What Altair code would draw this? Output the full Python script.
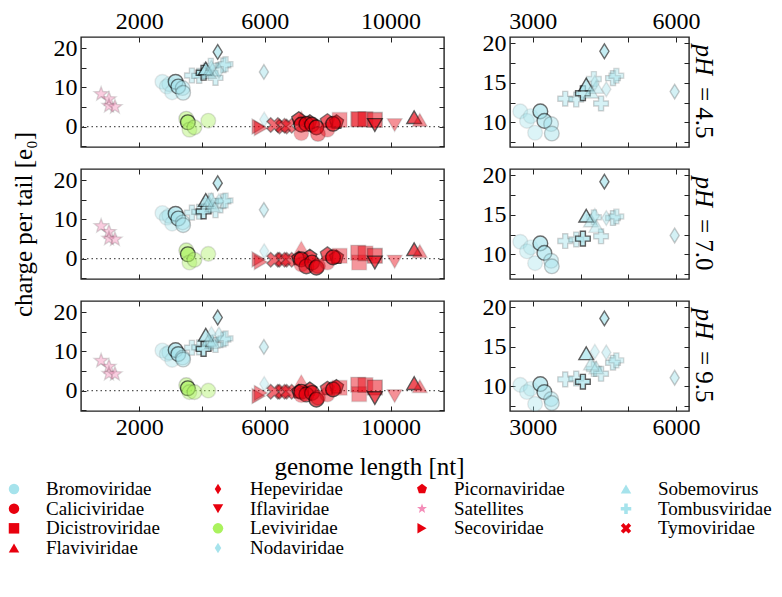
import math
import altair as alt
import pandas as pd

# ---------------- data ----------------
FAMILY = [
    "Satellites", "Satellites", "Satellites", "Satellites",
    "Bromoviridae", "Bromoviridae", "Bromoviridae", "Bromoviridae",
    "Bromoviridae", "Bromoviridae", "Bromoviridae", "Bromoviridae",
    "Tombusviridae", "Tombusviridae", "Tombusviridae", "Tombusviridae",
    "Tombusviridae", "Tombusviridae", "Tombusviridae",
    "Sobemovirus", "Sobemovirus", "Sobemovirus",
    "Nodaviridae", "Nodaviridae", "Nodaviridae", "Nodaviridae", "Nodaviridae",
    "Leviviridae", "Leviviridae", "Leviviridae", "Leviviridae", "Leviviridae",
    "Secoviridae", "Secoviridae",
    "Tymoviridae", "Tymoviridae", "Tymoviridae",
    "Flaviviridae", "Flaviviridae", "Flaviviridae",
    "Picornaviridae", "Picornaviridae", "Picornaviridae", "Picornaviridae",
    "Caliciviridae", "Caliciviridae", "Caliciviridae", "Caliciviridae",
    "Caliciviridae", "Caliciviridae", "Caliciviridae", "Caliciviridae",
    "Dicistroviridae", "Dicistroviridae", "Dicistroviridae", "Dicistroviridae",
    "Dicistroviridae",
    "Iflaviridae", "Iflaviridae",
]
LENGTH = [
    790, 1040, 1040, 1230,
    2740, 2880, 3050, 2960,
    3160, 3245, 3385, 3400,
    3680, 3910, 4050, 4280, 4430, 4680, 4750,
    4120, 4220, 4330,
    4500, 4540, 4300, 5970, 5980,
    3500, 3550, 3600, 3760, 4200,
    5800, 5870,
    6300, 6580, 6740,
    7160, 10750, 10930,
    7080, 7430, 7990, 8280,
    7160, 7320, 7500, 7640, 7690, 7160, 7990, 8170,
    8380, 8970, 9000, 9200, 9500,
    9500, 10130,
]
CHARGE_45 = [
    8.3, 7.0, 5.3, 5.0,
    11.4, 10.2, 8.7, 10.8,
    11.4, 10.2, 9.8, 8.6,
    13.0, 12.9, 13.7, 15.5, 12.4, 15.6, 15.9,
    14.8, 13.9, 14.5,
    19.0, 14.2, 15.0, 13.9, 1.8,
    2.0, 1.1, -0.8, -0.2, 1.5,
    0.0, -0.4,
    0.4, 0.0, 0.2,
    2.3, 2.4, 1.7,
    1.9, 1.1, 1.4, 1.1,
    0.5, 0.7, 0.5, -0.2, -1.9, -1.7, -0.8, 0.7,
    1.7, 1.9, 1.8, 1.9, 1.7,
    0.4, 0.4,
]
CHARGE_70 = [
    8.3, 6.8, 5.1, 4.9,
    11.6, 10.4, 8.9, 10.9,
    11.4, 10.2, 9.2, 8.5,
    11.7, 11.9, 12.0, 14.7, 12.3, 14.6, 14.8,
    14.9, 14.3, 13.6,
    19.2, 14.6, 14.9, 12.4, 1.9,
    2.1, 1.1, -1.0, -0.3, 1.2,
    -0.2, -0.9,
    -0.3, -0.3, -0.3,
    2.8, 2.4, 1.9,
    0.0, 0.5, 1.1, 0.3,
    -0.2, -2.0, -1.0, -2.3, -1.9, -1.5, -1.0, 0.3,
    0.7, 1.5, -1.0, 1.3, 0.7,
    -1.0, -0.8,
]
CHARGE_95 = [
    7.6, 6.1, 4.3, 4.2,
    10.2, 9.3, 7.8, 9.7,
    10.3, 9.3, 8.4, 7.9,
    10.9, 11.0, 10.6, 12.2, 11.6, 13.0, 13.3,
    14.2, 12.9, 12.4,
    18.6, 14.3, 14.4, 11.1, 1.7,
    1.4, 0.6, -0.4, -0.4, 0.0,
    -1.4, -0.6,
    -0.3, -0.3, -0.3,
    2.4, 1.9, 1.1,
    -0.3, 0.3, 0.5, 0.9,
    -0.3, -1.0, -0.6, -2.3, -1.8, -1.2, -1.0, 0.3,
    0.7, 1.5, -0.9, 1.4, 0.8,
    -1.9, -1.4,
]
ALPHA = [
    0.45, 0.45, 0.45, 0.45,
    0.35, 0.35, 0.35, 0.3,
    0.9, 0.85, 0.5, 0.55,
    0.5, 0.5, 0.95, 0.45, 0.5, 0.5, 0.45,
    0.95, 0.45, 0.4,
    0.9, 0.4, 0.35, 0.55, 0.35,
    0.5, 0.95, 0.4, 0.45, 0.4,
    0.55, 0.5,
    0.75, 0.7, 0.7,
    0.35, 0.95, 0.45,
    0.95, 0.95, 0.85, 0.95,
    0.95, 0.9, 0.9, 0.95, 0.5, 0.35, 0.4, 0.95,
    0.4, 0.5, 0.4, 0.45, 0.6,
    0.95, 0.45,
]
PH_LABELS = ["4.5", "7.0", "9.5"]
CHARGES = [CHARGE_45, CHARGE_70, CHARGE_95]

# legend: alphabetical, filled column by column into 4 columns
LEGEND_FAMILIES = [
    "Bromoviridae", "Caliciviridae", "Dicistroviridae", "Flaviviridae",
    "Hepeviridae", "Iflaviridae", "Leviviridae", "Nodaviridae",
    "Picornaviridae", "Satellites", "Secoviridae",
    "Sobemovirus", "Tombusviridae", "Tymoviridae",
]
LEGEND_COLUMNS = 4

BLUE, RED, GREEN, PINK = "#a6e3ec", "#e8000e", "#aaf25e", "#f48db8"
FAMILY_COLOR = {
    "Bromoviridae": BLUE, "Caliciviridae": RED, "Dicistroviridae": RED,
    "Flaviviridae": RED, "Hepeviridae": RED, "Iflaviridae": RED,
    "Leviviridae": GREEN, "Nodaviridae": BLUE, "Picornaviridae": RED,
    "Satellites": PINK, "Secoviridae": RED, "Sobemovirus": BLUE,
    "Tombusviridae": BLUE, "Tymoviridae": RED,
}


def poly(points):
    return "M" + "L".join(f"{x:.3f},{y:.3f}" for x, y in points) + "Z"


STAR = poly([((1.0 if k % 2 == 0 else 0.42) * math.cos(-math.pi / 2 + k * math.pi / 5),
              (1.0 if k % 2 == 0 else 0.42) * math.sin(-math.pi / 2 + k * math.pi / 5))
             for k in range(10)])
PENTAGON = poly([(math.cos(-math.pi / 2 + k * 2 * math.pi / 5),
                  math.sin(-math.pi / 2 + k * 2 * math.pi / 5)) for k in range(5)])
_w = 0.34
_plus = [(_w, -1), (_w, -_w), (1, -_w), (1, _w), (_w, _w), (_w, 1), (-_w, 1),
         (-_w, _w), (-1, _w), (-1, -_w), (-_w, -_w), (-_w, -1)]
PLUS = poly(_plus)
XCROSS = poly([((x - y) / math.sqrt(2) * 1.05, (x + y) / math.sqrt(2) * 1.05) for x, y in _plus])
THIN_DIAMOND = "M0,-1L0.62,0L0,1L-0.62,0Z"

FAMILY_SHAPE = {
    "Bromoviridae": "circle", "Caliciviridae": "circle", "Dicistroviridae": "square",
    "Flaviviridae": "triangle-up", "Hepeviridae": THIN_DIAMOND,
    "Iflaviridae": "triangle-down", "Leviviridae": "circle",
    "Nodaviridae": THIN_DIAMOND, "Picornaviridae": PENTAGON, "Satellites": STAR,
    "Secoviridae": "triangle-right", "Sobemovirus": "triangle-up",
    "Tombusviridae": PLUS, "Tymoviridae": XCROSS,
}

rows = []
for ph, charges in zip(PH_LABELS, CHARGES):
    for f, L, q, a in zip(FAMILY, LENGTH, charges, ALPHA):
        rows.append({"family": f, "length": L, "charge": q, "alpha": a, "pH": ph})
df = pd.DataFrame(rows)

# distribute legend entries column by column (first columns get the extra entries)
_n = len(LEGEND_FAMILIES)
_base, _extra = divmod(_n, LEGEND_COLUMNS)
_cols, _rows = [], []
for c in range(LEGEND_COLUMNS):
    for r in range(_base + (1 if c < _extra else 0)):
        _cols.append(c)
        _rows.append(r)
legend_df = pd.DataFrame({"family": LEGEND_FAMILIES, "col": _cols, "row": _rows})

FONT = "Liberation Serif"
TICK = 5
H = 110
LEFT_W, RIGHT_W = 363, 179

color_scale = alt.Scale(domain=LEGEND_FAMILIES, range=[FAMILY_COLOR[f] for f in LEGEND_FAMILIES])
shape_scale = alt.Scale(domain=LEGEND_FAMILIES, range=[FAMILY_SHAPE[f] for f in LEGEND_FAMILIES])


def axis(orient, values, cond, show_labels, **kw):
    return alt.Axis(
        orient=orient, values=values, format="d",
        labels=show_labels, labelExpr=f"{cond} ? datum.label : ''",
        offset=-TICK, tickSize=TICK, tickWidth=1, tickColor="#222",
        domain=False, grid=False, labelOverlap=False, labelFlush=False,
        labelFontSize=24, labelFont=FONT, labelColor="black", labelPadding=4,
        titleFont=FONT, titleFontSize=25, titleFontWeight="normal", titleColor="black",
        **kw,
    )


def legend_layers():
    # legend block laid out below the panels (scales relative to bottom-left panel)
    lx = alt.X("col:Q", scale=alt.Scale(domain=[0, 3], range=[-67, 545]), axis=None)
    ly = alt.Y("row:Q", scale=alt.Scale(domain=[0, 3], range=[188, 247]), axis=None)
    pts = alt.Chart(legend_df).mark_point(filled=True, size=110, opacity=1,
                                          strokeWidth=0).encode(
        x=lx, y=ly,
        color=alt.Color("family:N", scale=color_scale, legend=None),
        shape=alt.Shape("family:N", scale=shape_scale, legend=None),
    )
    txt = alt.Chart(legend_df).mark_text(align="left", baseline="middle", dx=32,
                                         fontSize=19, font=FONT, color="black").encode(
        x=lx, y=ly, text="family:N")
    return [pts, txt]


def panel(i, side):
    ph = PH_LABELS[i]
    data = df[df.pH == ph]
    top_row, bottom_row = i == 0, i == 2
    if side == "left":
        W = LEFT_W
        xdom, xvals, xcond = [150, 11700], [2000, 4000, 6000, 8000, 10000], "datum.value % 4000 == 2000"
        ydom, yvals, ycond = [-5.2, 22.8], [-5, 0, 5, 10, 15, 20], "datum.value % 10 == 0"
    else:
        W = RIGHT_W
        xdom, xvals, xcond = [2525, 6270], [3000, 4000, 5000, 6000], "datum.value % 3000 == 0"
        ydom, yvals, ycond = [6.9, 20.8], [7.5, 10, 12.5, 15, 17.5, 20], "datum.value % 5 == 0"

    xs = alt.Scale(domain=xdom, nice=False, zero=False)
    ys = alt.Scale(domain=ydom, nice=False, zero=False)

    xkw = {}
    if side == "left" and bottom_row:
        xkw = dict(title="genome length [nt]", titleX=288, titleY=68,
                   titleAlign="center", titleBaseline="alphabetic", titleAngle=0)
    ykw = {}
    if side == "left" and i == 1:
        ykw = dict(title="charge per tail [e₀]", titleX=-63, titleY=H / 2,
                   titleAlign="center", titleBaseline="middle", titleAngle=-90)

    points = alt.Chart(data).mark_point(filled=True, size=215, stroke="black",
                                        strokeWidth=1.4, clip=True).encode(
        x=alt.X("length:Q", scale=xs,
                axis=axis("bottom", xvals, xcond, bottom_row,
                          title=xkw.pop("title", None), **xkw)),
        y=alt.Y("charge:Q", scale=ys,
                axis=axis("left", yvals, ycond, True,
                          title=ykw.pop("title", None), **ykw)),
        color=alt.Color("family:N", scale=color_scale, legend=None),
        shape=alt.Shape("family:N", scale=shape_scale, legend=None),
        fillOpacity=alt.FillOpacity("alpha:Q", scale=alt.Scale(domain=[0, 1], range=[0.3, 1]), legend=None),
        strokeOpacity=alt.StrokeOpacity("alpha:Q", scale=alt.Scale(type="pow", exponent=2, domain=[0, 1], range=[0, 1]), legend=None),
        tooltip=alt.Tooltip("family:N"),
    )

    mirror = alt.Chart(data).mark_point(opacity=0, clip=True).encode(
        x=alt.X("length:Q", scale=xs, axis=axis("top", xvals, xcond, top_row, title=None)),
        y=alt.Y("charge:Q", scale=ys, axis=axis("right", yvals, ycond, False, title=None)),
    )

    layers = []
    if side == "left":
        zero = alt.Chart(pd.DataFrame({"zero": [0]})).mark_rule(
            strokeDash=[1.5, 3], color="#555", strokeWidth=1.2).encode(
            y=alt.Y("zero:Q", scale=ys, axis=None))
        layers.append(zero)
    layers += [points, mirror]

    if side == "right":
        lab = pd.DataFrame({"a": ["pH"], "b": [f"= {ph}"]})
        t1 = alt.Chart(lab).mark_text(angle=90, align="right", baseline="middle",
                                      fontStyle="italic", fontSize=25, font=FONT,
                                      color="black").encode(
            x=alt.value(W + 15), y=alt.value(38), text="a:N")
        t2 = alt.Chart(lab).mark_text(angle=90, align="left", baseline="middle",
                                      fontSize=25, font=FONT, color="black").encode(
            x=alt.value(W + 15), y=alt.value(50), text="b:N")
        layers += [t1, t2]

    if side == "left" and bottom_row:
        layers += legend_layers()

    return alt.layer(*layers).resolve_scale(x="independent", y="independent").properties(
        width=W, height=H)


panels = []
for i in range(3):
    panels += [panel(i, "left"), panel(i, "right")]

chart = alt.concat(*panels, columns=2, spacing={"row": 22, "column": 66},
                   bounds="flush").properties(padding=0)

chart = chart.configure(font=FONT).configure_view(
    stroke="#222", strokeWidth=1.4).configure_axis(
    labelFont=FONT, titleFont=FONT).configure_text(font=FONT)

chart.save("out.html", embed_options={"renderer": "svg", "actions": False})
